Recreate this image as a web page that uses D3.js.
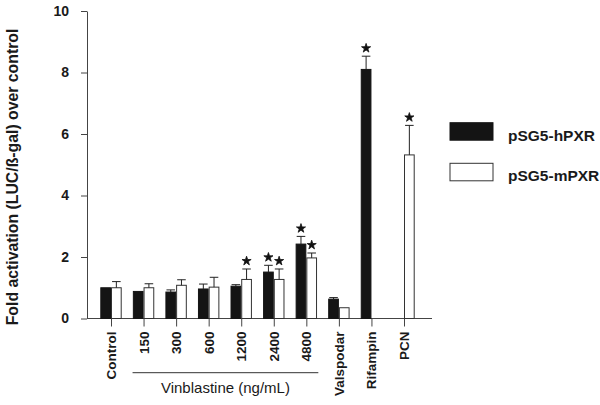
<!DOCTYPE html>
<html><head><meta charset="utf-8">
<script src="https://cdn.jsdelivr.net/npm/d3@7"></script>
<style>body{margin:0;background:#fff}svg{display:block}text{font-family:"Liberation Sans",Arial,sans-serif;fill:#1a1a1a}</style>
</head><body>
<script>
const categories = ["Control","150","300","600","1200","2400","4800","Valspodar","Rifampin","PCN"];
const seriesNames = ["pSG5-hPXR","pSG5-mPXR"];
const hPXR    = [1.0, 0.88, 0.86, 0.96, 1.05, 1.51, 2.42, 0.63, 8.1, null];
const hPXRErr = [0,   0,    0.07, 0.16, 0.05, 0.22, 0.25, 0.05, 0.43, null];
const hPXRSig = [false,false,false,false,false,true,true,false,true,false];
const mPXR    = [1.0, 1.0,  1.08, 1.02, 1.27, 1.27, 1.97, 0.35, null, 5.32];
const mPXRErr = [0.2, 0.13, 0.18, 0.32, 0.34, 0.34, 0.16, 0,    null, 0.96];
const mPXRSig = [false,false,false,false,true,true,true,false,false,true];
const yTicks = [0,2,4,6,8,10];
const yLabel = "Fold activation (LUC/ß-gal) over control";
const groupLabel = "Vinblastine (ng/mL)";
const groupMembers = ["150","300","600","1200","2400","4800"];

const W=600,H=405;
const svg=d3.select("body").append("svg").attr("width",W).attr("height",H);
const axisColor="#444";
const x=d3.scalePoint().domain(categories).range([111,404]);
const sub=d3.scaleBand().domain(seriesNames).range([-10.7,10.7]);
const y=d3.scaleLinear().domain([0,10]).range([318.5,11]);
const x0=87,x1=432;

const series=[
 {name:seriesNames[0],vals:hPXR,err:hPXRErr,sig:hPXRSig,fill:"#141414",stroke:"#141414"},
 {name:seriesNames[1],vals:mPXR,err:mPXRErr,sig:mPXRSig,fill:"#fff",stroke:"#333"}
];

// y axis
const ya=svg.append("g").attr("transform",`translate(${x0},0)`)
 .call(d3.axisLeft(y).tickValues(yTicks).tickSize(6).tickPadding(12).tickSizeOuter(0));
ya.select(".domain").attr("stroke",axisColor);
ya.selectAll(".tick line").attr("stroke",axisColor);
ya.selectAll(".tick text").attr("font-size",14).attr("font-weight","bold").attr("fill","#1a1a1a")
  .style("font-family","'Liberation Sans',Arial,sans-serif");

// x axis
const xa=svg.append("g").attr("transform",`translate(0,${y(0)})`)
 .call(d3.axisBottom(x).tickSize(8).tickSizeOuter(0));
xa.select(".domain").remove();
xa.selectAll(".tick line").attr("stroke",axisColor);
xa.selectAll(".tick text").remove();
svg.append("line").attr("x1",x0).attr("x2",x1).attr("y1",y(0)).attr("y2",y(0)).attr("stroke",axisColor);

// x labels rotated
svg.append("g").selectAll("text").data(categories).join("text")
 .attr("transform",d=>`translate(${x(d)+5},${y(0)+13}) rotate(-90)`)
 .attr("text-anchor","end").attr("font-size",13.5).attr("font-weight","bold").text(d=>d);

// group line and label
const gx0=x(groupMembers[0])-11, gx1=x(groupMembers[groupMembers.length-1])+12;
svg.append("line").attr("x1",gx0).attr("x2",gx1).attr("y1",372.7).attr("y2",372.7).attr("stroke","#333");
svg.append("text").attr("x",(gx0+gx1)/2).attr("y",393).attr("text-anchor","middle")
 .attr("font-size",15).text(groupLabel);

// bars
const star=d3.symbol().type(d3.symbolStar).size(26);
series.forEach(s=>{
  const g=svg.append("g");
  const data=categories.map((c,i)=>({c,v:s.vals[i],e:s.err[i],sig:s.sig[i]})).filter(d=>d.v!=null);
  g.selectAll("rect").data(data).join("rect")
   .attr("x",d=>x(d.c)+sub(s.name)+0.5).attr("width",sub.bandwidth()-1)
   .attr("y",d=>y(d.v)).attr("height",d=>y(0)-y(d.v))
   .attr("fill",s.fill).attr("stroke",s.stroke).attr("stroke-width",1);
  const eb=data.filter(d=>d.e>0);
  const cx=d=>x(d.c)+sub(s.name)+sub.bandwidth()/2;
  g.selectAll("line.e").data(eb).join("line").attr("class","e")
   .attr("x1",cx).attr("x2",cx).attr("y1",d=>y(d.v)).attr("y2",d=>y(d.v+d.e)).attr("stroke","#222");
  g.selectAll("line.c").data(eb).join("line").attr("class","c")
   .attr("x1",d=>cx(d)-4.3).attr("x2",d=>cx(d)+4.3).attr("y1",d=>y(d.v+d.e)).attr("y2",d=>y(d.v+d.e)).attr("stroke","#222");
  g.selectAll("path").data(data.filter(d=>d.sig)).join("path")
   .attr("d",star).attr("fill","#111").attr("stroke","#111").attr("stroke-width",0.8).attr("stroke-linejoin","round")
   .attr("transform",d=>`translate(${cx(d)},${y(d.v+d.e)-8})`);
});

// legend
const leg=svg.append("g");
series.forEach((s,i)=>{
  const ly=122.7+i*40.6;
  leg.append("rect").attr("x",450).attr("y",ly).attr("width",43).attr("height",17.5)
   .attr("fill",s.fill).attr("stroke",s.stroke);
  leg.append("text").attr("x",508).attr("y",ly+18).attr("font-size",15.5).attr("font-weight","bold").text(s.name);
});

// y label
svg.append("text").attr("transform","translate(18,177) rotate(-90)").attr("text-anchor","middle")
 .attr("font-size",15.8).attr("font-weight","bold").text(yLabel);
</script>
</body></html>
